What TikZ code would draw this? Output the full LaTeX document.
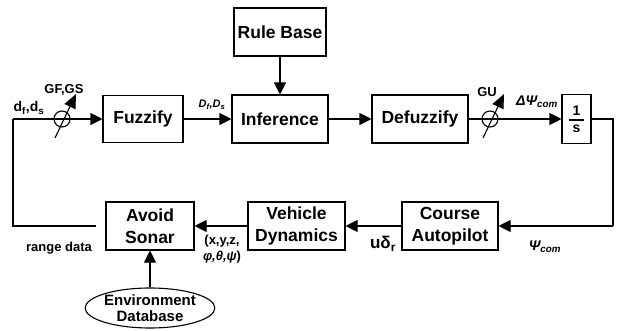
\documentclass[tikz,border=0pt]{standalone}
\usepackage{fontspec}
\setmainfont{Liberation Sans}
\usetikzlibrary{arrows.meta,shapes.geometric}

\tikzset{
  blk/.style={draw, line width=1.1pt, inner sep=1pt, align=center,
    font=\fontsize{17.5}{22}\selectfont\bfseries, minimum height=48pt},
  lbl/.style={inner sep=0pt, align=center, font=\fontsize{13}{15}\selectfont\bfseries},
  wire/.style={line width=1.1pt},
  arr/.style={wire, -{Triangle[length=12pt,width=12pt]}},
  gainarr/.style={wire, -{Triangle[length=14pt,width=12pt]}},
  gain/.style={draw, circle, line width=1.1pt, minimum size=16pt, inner sep=0pt},
}

\begin{document}
\begin{tikzpicture}[x=1pt,y=-1pt]
\useasboundingbox (0,0) rectangle (620,331);

% upper row: fuzzy controller
\node[blk, minimum width=92pt] (rb) at (280,32) {Rule Base};
\node[blk, minimum width=80pt, minimum height=47pt] (fz) at (143,119) {Fuzzify};
\node[blk, minimum width=96pt] (inf) at (280,119) {Inference};
\node[blk, minimum width=96pt] (dz) at (420,119) {Defuzzify};
\node[blk, minimum width=29pt, minimum height=49pt, inner sep=0pt,
      font=\fontsize{14}{15}\selectfont\bfseries] (os) at (576.5,119)
      {\shortstack{1\\[1pt]\rule{15pt}{1.2pt}\\[1pt]s}};

% gain potentiometers
\node[gain] (g1) at (62,119) {};
\node[gain] (g2) at (490,119) {};

% lower row: vehicle loop
\node[blk, minimum width=96pt] (ca) at (450,226) {Course\\Autopilot};
\node[blk, minimum width=97pt] (vd) at (296.5,226) {Vehicle\\Dynamics};
\node[blk, minimum width=88pt] (so) at (150,226) {Avoid\\Sonar};
\node[draw, ellipse, line width=1.1pt, minimum width=108pt, minimum height=40pt,
      inner sep=0pt, align=center, font=\fontsize{15}{16}\selectfont\bfseries]
      (env) at (150,308) {Environment\\Database};

% corner points of the feedback paths
\coordinate (lt) at (13,119);
\coordinate (lb) at (13,226);
\coordinate (rt) at (613,119);
\coordinate (rbk) at (613,226);

% connectors
\draw[wire] (lt) -- (g1.center);
\draw[arr] (g1.center) -- (fz.west);
\draw[arr] (fz) -- (inf);
\draw[arr] (rb) -- (inf);
\draw[arr] (inf) -- (dz);
\draw[wire] (dz.east) -- (g2.center);
\draw[arr] (g2.center) -- (os.west);
\draw[wire] (os.east) -- (rt) -- (rbk);
\draw[arr] (rbk) -- (ca.east);
\draw[arr] (ca) -- (vd);
\draw[arr] (vd) -- (so);
\draw[arr] (env) -- (so);
\draw[wire] ([xshift=-9pt]so.west) -- (lb) -- (lt);

% adjustable gains
\draw[gainarr] ([shift={(-7,19)}]g1.center) -- ([shift={(14,-25)}]g1.center);
\draw[gainarr] ([shift={(-7,19)}]g2.center) -- ([shift={(14,-25)}]g2.center);

% signal labels
\node[lbl, font=\fontsize{14}{16}\selectfont\bfseries] (ldd) at (29,108) {d\textsubscript{f},d\textsubscript{s}};
\node[lbl] (lgf) at (64,90) {GF,GS};
\node[lbl, font=\fontsize{11}{13}\selectfont\bfseries\itshape] (ldf) at (212,105) {D\textsubscript{f},D\textsubscript{s}};
\node[lbl] (lgu) at (487,92) {GU};
\node[lbl, font=\fontsize{14}{16}\selectfont\bfseries\itshape] (ldp) at (537,102) {ΔΨ\textsubscript{com}};
\node[lbl, font=\fontsize{14}{16}\selectfont\bfseries\itshape] (lpc) at (545,247) {Ψ\textsubscript{com}};
\node[lbl, font=\fontsize{17}{19}\selectfont\bfseries] (lud) at (383,244) {uδ\textsubscript{r}};
\node[lbl, font=\fontsize{13}{16}\selectfont\bfseries] (lxy) at (222,249) {(x,y,z,\\\textit{φ,θ,ψ})};
\node[lbl] (lrd) at (59,248) {range data};
\end{tikzpicture}
\end{document}
